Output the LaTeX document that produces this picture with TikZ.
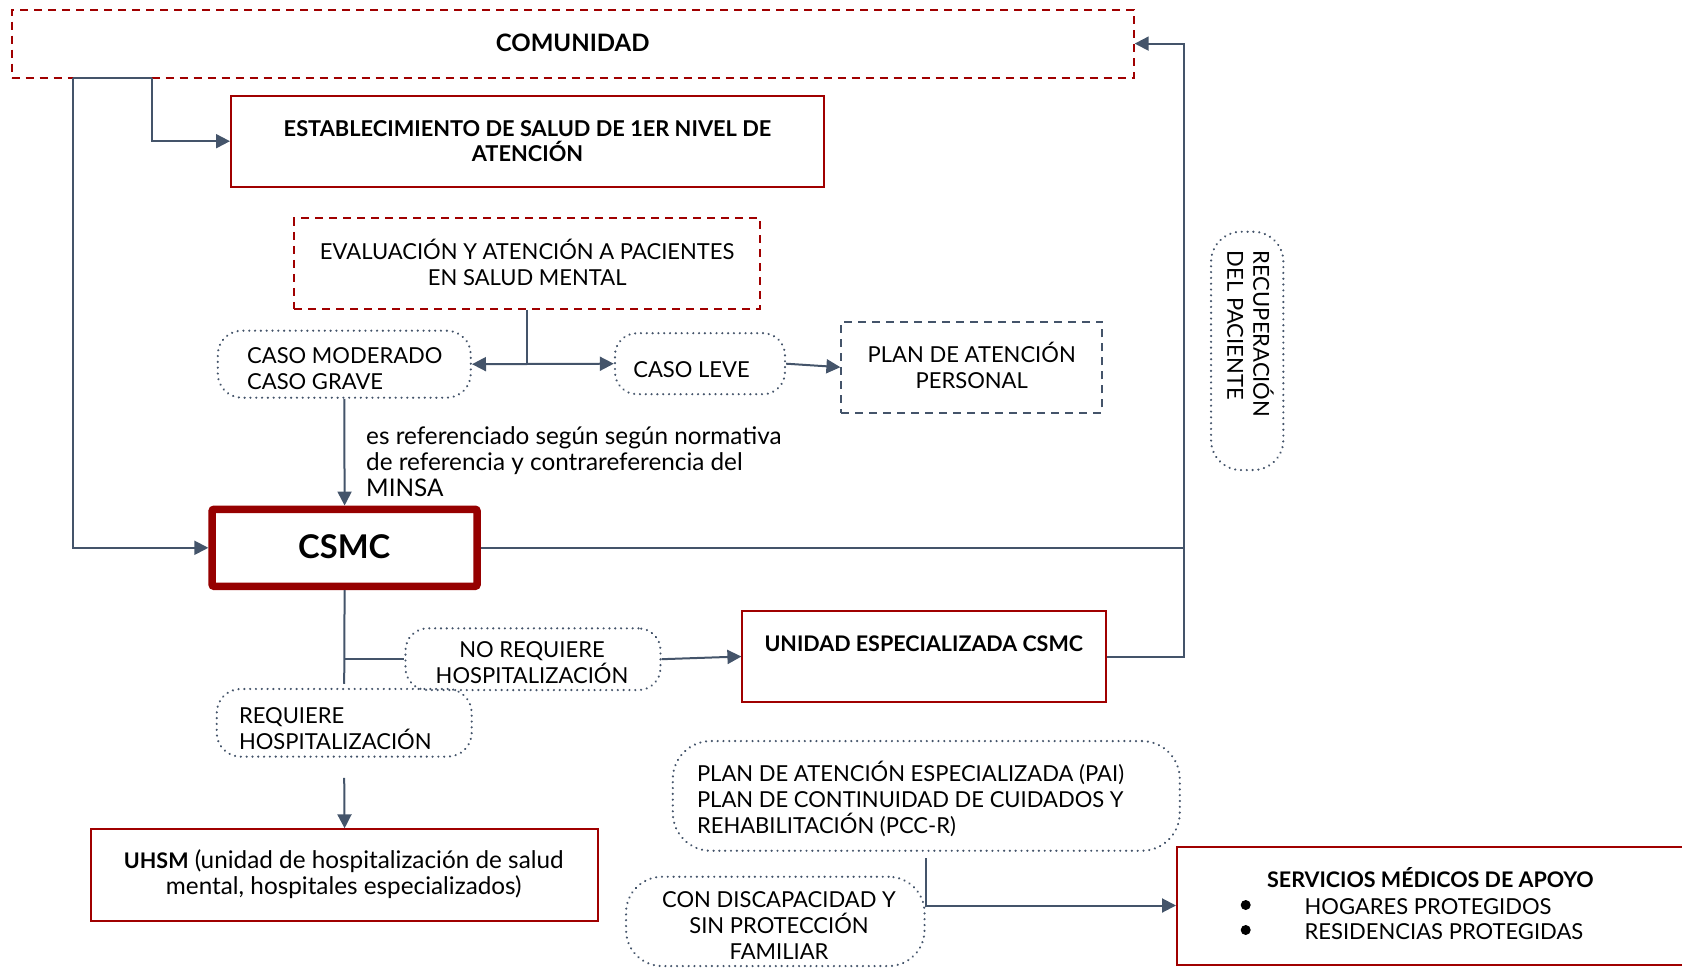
\documentclass[tikz,border=0pt]{standalone}
\usepackage{fontspec}
\setmainfont{Lato}
\usetikzlibrary{arrows.meta,calc}
\definecolor{dred}{RGB}{160,0,0}
\definecolor{csred}{RGB}{150,0,0}
\definecolor{connc}{HTML}{44546A}
\begin{document}
\begin{tikzpicture}[x=1pt,y=-1pt,
  font=\fontsize{22}{26}\selectfont,
  boxred/.style={draw=dred, line width=2pt, inner sep=0pt},
  dashred/.style={draw=dred, line width=2pt, dash pattern=on 8pt off 6pt, inner sep=0pt},
  dashblue/.style={draw=connc, line width=2pt, dash pattern=on 8pt off 6pt, inner sep=0pt},
  dotbox/.style={draw=connc, line width=2.4pt, dash pattern=on 0.01pt off 5.8pt, line cap=round, inner sep=0pt},
  csmcbox/.style={draw=csred, line width=7.5pt, rounded corners=2pt, inner sep=0pt},
  conline/.style={draw=connc, line width=2pt},
  arr/.style={conline, -{Triangle[length=14pt,width=14pt]}},
  txt/.style={inner sep=0pt, align=center, text=black},
  txtl/.style={inner sep=0pt, align=left, text=black},
  bold/.style={font=\fontsize{21.5}{26}\selectfont\bfseries},
  lower/.style={font=\fontsize{24.3}{26}\selectfont},
]
\useasboundingbox (0,0) rectangle (1682,968);
\clip (0,0) rectangle (1682,968);

% ---- boxes ----
\node[dashred, minimum width=1122pt, minimum height=68pt] (comunidad) at (572.7,43.6) {};
\node[boxred, minimum width=593pt, minimum height=91pt] (estab) at (527.5,141.2) {};
\node[dashred, minimum width=466pt, minimum height=90.5pt] (eval) at (527.2,263.7) {};
\node[dotbox, rounded corners=24pt, minimum width=253pt, minimum height=67pt] (moderado) at (344.3,364.2) {};
\node[dotbox, rounded corners=22pt, minimum width=170pt, minimum height=61pt] (leve) at (700,363.7) {};
\node[dashblue, minimum width=260.6pt, minimum height=91pt] (planpers) at (971.7,367.2) {};
\node[csmcbox, minimum width=265pt, minimum height=77pt] (csmc) at (344.6,547.8) {};
\node[dotbox, rounded corners=22pt, minimum width=255pt, minimum height=61.7pt] (noreq) at (533,659.2) {};
\node[dotbox, rounded corners=24pt, minimum width=255pt, minimum height=67.7pt] (req) at (344.2,722.8) {};
\node[boxred, minimum width=507pt, minimum height=91.4pt] (uhsm) at (344.6,875) {};
\node[boxred, minimum width=363.6pt, minimum height=91pt] (unidad) at (924.2,656.5) {};
\node[dotbox, rounded corners=38pt, minimum width=507pt, minimum height=109.7pt] (planespec) at (926.3,795.9) {};
\node[dotbox, rounded corners=36pt, minimum width=298.5pt, minimum height=89.3pt] (condisc) at (775.3,921.4) {};
\node[boxred, minimum width=540pt, minimum height=118pt] (servicios) at (1447,905.5) {};
\node[dotbox, rounded corners=30pt, minimum width=72.3pt, minimum height=238.3pt] (recup) at (1247.2,350.9) {};

% ---- texts ----
\node[txt, font=\fontsize{24}{28}\selectfont\bfseries] (tcom) at (572.7,43.3) {COMUNIDAD};
\node[txt, font=\fontsize{21.8}{25.5}\selectfont\bfseries] (testab) at (527.5,141) {ESTABLECIMIENTO DE SALUD DE 1ER NIVEL DE\\ATENCIÓN};
\node[txt] (teval) at (527.2,262) {EVALUACIÓN Y ATENCIÓN A PACIENTES\\EN SALUD MENTAL};
\node[txtl, anchor=west] (tmod) at (247,368.5) {CASO MODERADO\\CASO GRAVE};
\node[txt, anchor=base] (tleve) at (691.5,377.5) {CASO LEVE};
\node[txt] (tplan) at (971.7,365) {PLAN DE ATENCIÓN\\PERSONAL};
\node[txtl, lower, anchor=west] (tref) at (366,462) {es referenciado según según normativa\\de referencia y contrareferencia del\\MINSA};
\node[txt, font=\fontsize{32.7}{36}\selectfont\bfseries] (tcsmc) at (344.2,547) {CSMC};
\node[txt] (tnoreq) at (532,663) {NO REQUIERE\\HOSPITALIZACIÓN};
\node[txtl, anchor=west] (treq) at (238.8,729) {REQUIERE\\HOSPITALIZACIÓN};
\node[txt, lower] (tuhsm) at (343.8,874.5) {{\fontsize{21.5}{26}\selectfont\bfseries UHSM} (unidad de hospitalización de salud\\mental, hospitales especializados)};
\node[txt, bold, anchor=base] (tunidad) at (923.7,651) {UNIDAD ESPECIALIZADA CSMC};
\node[txtl, anchor=west] (tplanesp) at (696.8,798.5) {PLAN DE ATENCIÓN ESPECIALIZADA (PAI)\\PLAN DE CONTINUIDAD DE CUIDADOS Y\\REHABILITACIÓN (PCC-R)};
\node[txt] (tcond) at (779,926) {CON DISCAPACIDAD Y\\SIN PROTECCIÓN\\FAMILIAR};
\node[txt, bold, anchor=base] (tserv) at (1430.4,887.5) {SERVICIOS MÉDICOS DE APOYO};
\node[circle, fill=black, inner sep=0pt, minimum size=10pt] (bul1) at (1245.7,905) {};
\node[circle, fill=black, inner sep=0pt, minimum size=10pt] (bul2) at (1245.7,930) {};
\node[txtl, anchor=base west] (thog) at (1304.4,914) {HOGARES PROTEGIDOS};
\node[txtl, anchor=base west] (tres) at (1304.4,939) {RESIDENCIAS PROTEGIDAS};
\node[txtl, rotate=-90] (trecup) at (1250.4,334) {RECUPERACIÓN\\DEL PACIENTE};

% ---- connectors ----
\coordinate (c1) at (72.7,77.6);
\coordinate (c2) at (151.5,77.6);
\coordinate (cR) at (1184,547.8);
\coordinate (cE) at (527.2,364);

\draw[arr] (c1) |- (csmc.west);
\draw[conline] (c1) -- (c2);
\draw[arr] (c2) |- (estab.west);
\draw[conline] (csmc.east) -- (cR);
\draw[arr] (cR) |- (comunidad.east);
\draw[conline] (unidad.east) -| (cR);
\draw[conline] (eval.south) -- (cE);
\draw[arr] (cE) -- (moderado.east);
\draw[arr] (cE) -- (leve.west);
\draw[arr] (leve.east) -- (planpers.west);
\draw[arr] (moderado.south) -- (csmc.north);
\draw[conline] (csmc.south) -- ($(req.north)+(0,-4)$);
\draw[conline] (csmc.south |- noreq.west) -- (noreq.west);
\draw[arr] ($(req.south)+(0,20)$) -- (uhsm.north);
\draw[arr] (noreq.east) -- (unidad.west);
\draw[arr] ($(planespec.south)+(0,6.5)$) |- (servicios.west);
\end{tikzpicture}
\end{document}
